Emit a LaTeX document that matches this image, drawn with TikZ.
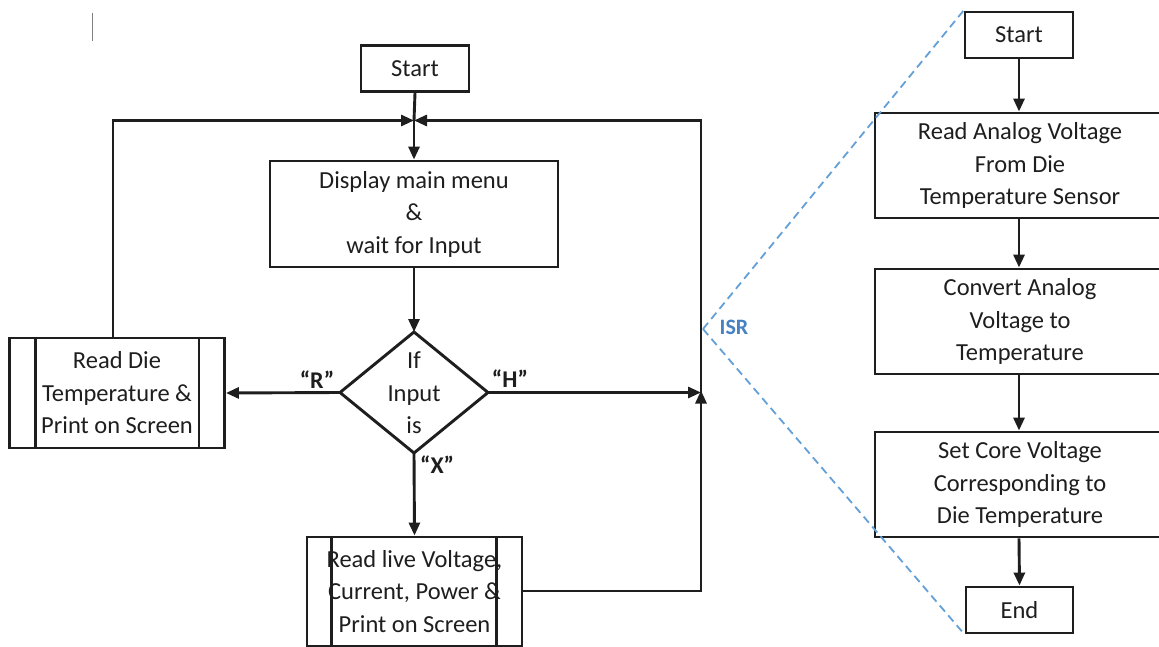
\documentclass[tikz,border=0pt]{standalone}
\usepackage{fontspec}
\setmainfont{Carlito}
\usetikzlibrary{arrows.meta}
\definecolor{ink}{RGB}{30,30,30}
\definecolor{isrblue}{RGB}{70,130,195}
\definecolor{dashblue}{RGB}{100,160,215}
\begin{document}
\begin{tikzpicture}[x=1pt,y=-1pt,
  every node/.style={font=\fontsize{24.5}{32.5}\selectfont, text=ink},
  box/.style={draw=ink, line width=2.9pt, align=center, inner sep=0pt},
  conn/.style={draw=ink, line width=2.9pt},
  arr/.style={conn, -{Triangle[length=13pt,width=11pt]}},
  lbl/.style={font=\fontsize{24}{28}\selectfont\bfseries},
  isrline/.style={draw=dashblue, line width=1.8pt, dash pattern=on 8pt off 5pt},
]
\clip (0,0) rectangle (1159,647);
\fill[white] (0,0) rectangle (1159,647);

% small cursor mark
\draw[gray, line width=1pt] (92,13) -- (92,41);

% ---------- main flowchart ----------
\node[box, minimum width=108pt, minimum height=46pt] (start) at (415,68.5) {Start};
\node[box, minimum width=288pt, minimum height=106pt] (menu) at (414,214)
  {Display main menu\\\&\\wait for Input};

% diamond
\coordinate (dT) at (414,332);
\coordinate (dB) at (414,453);
\coordinate (dL) at (340,392.5);
\coordinate (dR) at (488,392.5);
\draw[conn, line join=miter] (dT) -- (dR) -- (dB) -- (dL) -- cycle;
\node[align=center] (dec) at (414,393) {If\\Input\\is};

% Read Die box (predefined process)
\node[box, minimum width=215pt, minimum height=110pt] (rdie) at (117,393)
  {Read Die\\Temperature \&\\Print on Screen};
\draw[conn] ([xshift=27pt]rdie.north west) -- ([xshift=27pt]rdie.south west);
\draw[conn] ([xshift=-27pt]rdie.north east) -- ([xshift=-27pt]rdie.south east);

% Read live box (predefined process)
\node[box, minimum width=215pt, minimum height=109pt] (rlive) at (414.5,591.5)
  {Read live Voltage,\\Current, Power \&\\Print on Screen};
\draw[conn] ([xshift=26pt]rlive.north west) -- ([xshift=26pt]rlive.south west);
\draw[conn] ([xshift=-27pt]rlive.north east) -- ([xshift=-27pt]rlive.south east);

% junction coordinates
\coordinate (jtop) at (414,120.5);
\coordinate (jright) at (701,392.5);
\coordinate (ctl) at (113,120.5);
\coordinate (ctr) at (701,120.5);
\coordinate (cbr) at (701,591);
\coordinate (rdtop) at (113,338);

% connectors
\draw[conn] (start.south) -- (jtop);
\draw[arr] (jtop) -- (menu.north);
\draw[arr] (menu.south) -- (dT);
\draw[arr] (dL) -- (rdie.east);
\draw[arr] (dR) -- (jright);
\draw[arr] (dB) -- (rlive.north);
\draw[arr] (rdtop) -- (ctl) -- (jtop);
\draw[arr] (jright) -- (ctr) -- (jtop);
\draw[arr] (rlive.east |- cbr) -- (cbr) -- ([yshift=2pt]jright);

% labels
\node[lbl] (lr) at (317,380) {“R”};
\node[lbl] (lh) at (510,379) {“H”};
\node[lbl] (lx) at (437,465) {“X”};

% ---------- ISR flowchart ----------
\node[box, minimum width=108pt, minimum height=46pt] (s2) at (1019,35) {Start};
\node[box, minimum width=290pt, minimum height=105pt] (b1) at (1020,165.5)
  {Read Analog Voltage\\From Die\\Temperature Sensor};
\node[box, minimum width=290pt, minimum height=105pt] (b2) at (1020,321.5)
  {Convert Analog\\Voltage to\\Temperature};
\node[box, minimum width=290pt, minimum height=105pt] (b3) at (1020,484.5)
  {Set Core Voltage\\Corresponding to\\Die Temperature};
\node[box, minimum width=107pt, minimum height=46pt] (e2) at (1019.5,610) {End};

\draw[arr] (s2.south) -- (s2.south |- b1.north);
\draw[arr] (s2.south |- b1.south) -- (s2.south |- b2.north);
\draw[arr] (s2.south |- b2.south) -- (s2.south |- b3.north);
\draw[arr] (s2.south |- b3.south) -- (e2.north);

% ISR zoom lines
\coordinate (isrv) at (703,329);
\draw[isrline] (isrv) -- (s2.north west);
\draw[isrline] (isrv) -- (e2.south west);
\node[font=\fontsize{22}{26}\selectfont\bfseries, text=isrblue] (isr) at (734,327) {ISR};
\end{tikzpicture}
\end{document}
